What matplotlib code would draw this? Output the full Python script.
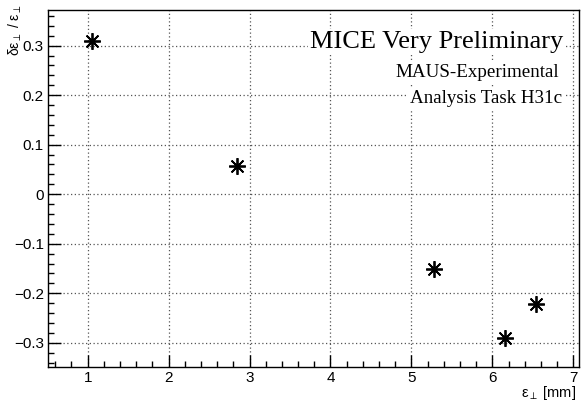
import matplotlib
matplotlib.use("Agg")
import matplotlib.pyplot as plt
from matplotlib.ticker import MultipleLocator

plt.rcParams['font.family'] = ['Liberation Sans', 'DejaVu Sans']
plt.rcParams['mathtext.fontset'] = 'custom'
plt.rcParams['mathtext.rm'] = 'Liberation Sans'
plt.rcParams['mathtext.it'] = 'Liberation Sans'

emittance = [1.05, 2.84, 5.28, 6.16, 6.54]
rel_change = [0.310, 0.056, -0.152, -0.290, -0.222]

title = "MICE Very Preliminary"
sub1 = "MAUS-Experimental"
sub2 = "Analysis Task H31c"

fig = plt.figure(figsize=(5.81, 4.01), dpi=100)
ax = fig.add_axes([48/581, 34/401, 531/581, 357/401])

ax.plot(emittance, rel_change, linestyle='none', marker=(8, 2, 0),
        markersize=12, markeredgewidth=1.3, color='black', zorder=5)

ax.set_xlim(0.51, 7.07)
ax.set_ylim(-0.349, 0.372)
ax.xaxis.set_major_locator(MultipleLocator(1))
ax.xaxis.set_minor_locator(MultipleLocator(0.2))
ax.yaxis.set_major_locator(MultipleLocator(0.1))
ax.yaxis.set_minor_locator(MultipleLocator(0.02))
ax.tick_params(which='both', direction='in', top=False, right=False, labelsize=11)
ax.tick_params(which='major', length=9, width=1)
ax.tick_params(which='minor', length=4, width=1)
ax.tick_params(axis='x', pad=3)
ax.tick_params(axis='y', pad=3)
ax.grid(True, which='major', linestyle=(0, (1, 2)), color='#555555', linewidth=0.9)
ax.set_axisbelow(True)
for s in ax.spines.values():
    s.set_linewidth(1.0)

ax.set_xticks([1, 2, 3, 4, 5, 6, 7])
ax.set_xticklabels([str(v) for v in [1, 2, 3, 4, 5, 6, 7]])
ax.set_yticks([-0.3, -0.2, -0.1, 0, 0.1, 0.2, 0.3])
ax.set_yticklabels(['\u22120.3', '\u22120.2', '\u22120.1', '0', '0.1', '0.2', '0.3'])

fig.text(576/581, 1 - 393/401, r'$\mathrm{\epsilon_{\perp}}$ [mm]', ha='right', va='center', fontsize=10.5)
fig.text(15/581, 1 - 4/401, r'$\mathrm{\delta\epsilon_{\perp}}$ / $\mathrm{\epsilon_{\perp}}$', ha='center', va='top',
         rotation=90, fontsize=10)

bb = dict(facecolor='white', edgecolor='none', pad=1.5)
fig.text(563/581, 1 - 48/401, title, ha='right', va='baseline', fontsize=19,
         family='Liberation Serif', bbox=bb)
fig.text(559/581, 1 - 77/401, sub1, ha='right', va='baseline', fontsize=13.7,
         family='Liberation Serif', bbox=bb)
fig.text(562/581, 1 - 103/401, sub2, ha='right', va='baseline', fontsize=13.7,
         family='Liberation Serif', bbox=bb)

fig.savefig("out.png", dpi=100)
